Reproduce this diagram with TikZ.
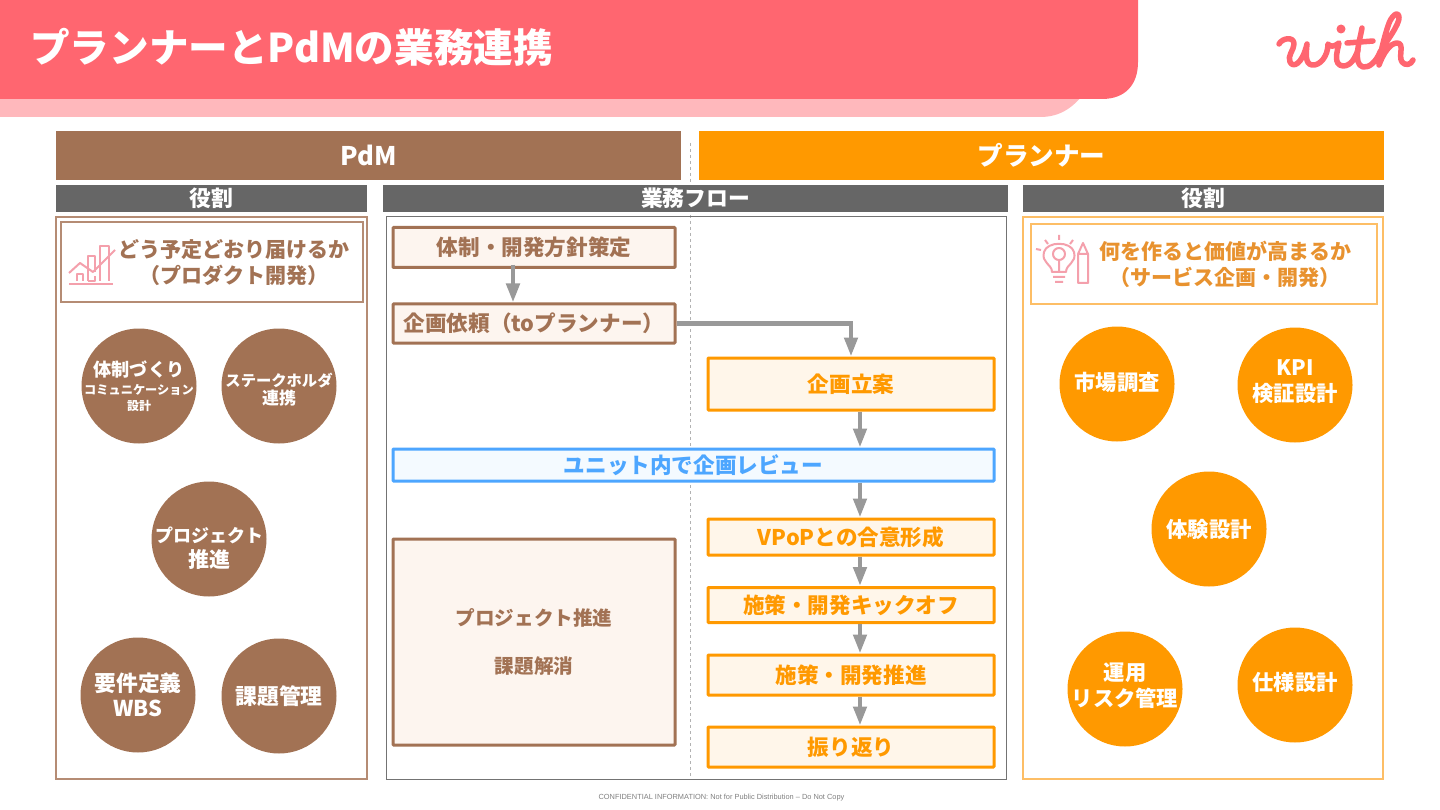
\documentclass[tikz,border=0pt]{standalone}
\usepackage{fontspec}
\setmainfont{Noto Sans CJK JP}
\newfontfamily\footfont{Liberation Sans}
\usepackage{tikz}
\usetikzlibrary{positioning, arrows.meta, calc}
\definecolor{withred}{HTML}{FF6670}
\definecolor{withpink}{HTML}{FFB8BC}
\definecolor{pdmbrown}{HTML}{A27254}
\definecolor{browntint}{HTML}{FDF5EF}
\definecolor{brownline}{HTML}{B58C74}
\definecolor{plannerorange}{HTML}{FF9900}
\definecolor{orangetint}{HTML}{FFF6EA}
\definecolor{orangeline}{HTML}{FDBE66}
\definecolor{bargray}{HTML}{666666}
\definecolor{flowblue}{HTML}{4DA6FF}
\definecolor{iconpink}{HTML}{F4A0AC}
\definecolor{softorange}{HTML}{E8922F}
\newcommand{\rolelift}[2]{\raisebox{\dimexpr#1-8pt}[0pt][0pt]{\begin{tabular}{@{}c@{}}#2\end{tabular}}}
\tikzset{
  bigbar/.style={font=\fontsize{25.6}{30}\selectfont\bfseries, text=white, inner sep=0pt, minimum height=49pt},
  subbar/.style={fill=bargray, font=\fontsize{21.8}{26}\selectfont\bfseries, text=white, inner sep=0pt, minimum height=27pt},
  brownbox/.style={draw=pdmbrown, line width=3pt, fill=browntint, text=pdmbrown, inner sep=0pt, font=\fontsize{21.6}{25}\selectfont\bfseries, minimum width=282pt, rounded corners=0.8pt},
  orangebox/.style={draw=plannerorange, line width=3pt, fill=orangetint, text=plannerorange, inner sep=0pt, font=\fontsize{21.6}{25}\selectfont\bfseries, minimum width=286pt, rounded corners=0.8pt},
  bluebox/.style={draw=flowblue, line width=3pt, fill=flowblue!6, text=flowblue, inner sep=0pt, font=\fontsize{21.6}{25}\selectfont\bfseries, minimum width=601pt, minimum height=32pt, rounded corners=0.8pt},
  brownrole/.style={circle, fill=pdmbrown, text=white, inner sep=-20pt, minimum size=115pt, align=center, font=\fontsize{21.8}{25}\selectfont\bfseries},
  orangerole/.style={circle, fill=plannerorange, text=white, inner sep=-20pt, minimum size=115pt, align=center, font=\fontsize{21.3}{25}\selectfont\bfseries},
  flow/.style={draw=black!40, line width=4.5pt, -{Triangle[length=19pt,width=13pt]}},
  icon/.style={draw=iconpink, line width=2pt, line join=round}
}
\begin{document}
\begin{tikzpicture}[x=1pt, y=-1pt]
    \useasboundingbox (0,0) rectangle (1440,810);
    \fill[white] (0,0) rectangle (1440,810);

    % Title band
    \fill[withpink] (0,80) -- (1090,80) -- (1090,85) .. controls (1075,108) and (1060,117) .. (1040,117) -- (0,117) -- cycle;
    \fill[withred] (0,0) -- (1138,0) -- (1138,62) .. controls (1138,85) and (1125,99) .. (1102,99) -- (0,99) -- cycle;
    \node[anchor=west, text=white, inner sep=0pt, font=\fontsize{39.6}{44}\selectfont\bfseries] (title) at (30,47) {プランナーとPdMの業務連携};

    % Logo
    \draw[withred, line width=5.5pt, line cap=round, line join=round]
      (1279,44) .. controls (1282,38) and (1294,36) .. (1294,44)
      .. controls (1294,50) and (1287,56) .. (1290,62)
      .. controls (1293,68) and (1302,65) .. (1307,44)
      .. controls (1306,54) and (1305,64) .. (1312,65)
      .. controls (1320,66) and (1328,56) .. (1328,44)
      .. controls (1330,47) and (1334,47) .. (1339,43)
      .. controls (1337,52) and (1333,65) .. (1343,66)
      .. controls (1351,66) and (1355,58) .. (1358,50);
    \draw[withred, line width=5.5pt, line cap=round, line join=round]
      (1362,28) .. controls (1360,40) and (1352,64) .. (1363,67)
      .. controls (1369,68) and (1376,62) .. (1380,52)
      .. controls (1386,42) and (1400,24) .. (1399,17)
      .. controls (1398,10) and (1391,16) .. (1388,26)
      .. controls (1384,38) and (1380,54) .. (1379,65)
      .. controls (1383,54) and (1390,43) .. (1397,43)
      .. controls (1405,43) and (1398,56) .. (1402,62)
      .. controls (1405,66) and (1411,65) .. (1413,60);
    \draw[withred, line width=5.5pt, line cap=round] (1347,43) -- (1373,41);
    \fill[withred] (1341,29) circle (4.5pt);

    % Centre divider
    \coordinate (divtop) at (690,143);
    \coordinate (divbot) at (690,777);
    \draw[black!30, dashed, line width=1pt] (divtop) -- (divbot);

    % Column headers
    \fill[pdmbrown] (56,131) rectangle (681,180);
    \node[bigbar] (pdmbar) at (368.5,155.5) {PdM};
    \fill[plannerorange] (699,131) rectangle (1384,180);
    \node[bigbar] (plannerbar) at (1041.5,155.5) {プランナー};
    \node[subbar, minimum width=311pt] (roleleft) at (211.5,198.5) {役割};
    \node[subbar, minimum width=625pt] (flowbar) at (695.5,198.5) {業務フロー};
    \node[subbar, minimum width=361pt] (roleright) at (1203.5,198.5) {役割};

    % Panels
    \draw[brownline, line width=1.2pt] (56,217) rectangle (367,779);
    \draw[black!55, line width=1pt] (386,217) rectangle (1006,779);
    \draw[orangeline, line width=1.2pt] (1023,217) rectangle (1383,779);

    % Left role heading
    \draw[brownline, line width=1.2pt] (61,222) rectangle (363,302);
    \node[align=center, inner sep=0pt, text=pdmbrown, font=\fontsize{21}{26}\selectfont\bfseries] (whenhead) at (234,263) {どう予定どおり届けるか\\（プロダクト開発）};
    % Chart icon
    \draw[icon] (77,281) -- (77,274) -- (83,274) -- (83,281) (88,281) -- (88,256) -- (95,256) -- (95,272) (100,281) -- (100,246) -- (109,246) -- (109,281) (88,281) -- (95,281) -- (95,276);
    \draw[icon] (69,273) -- (80,263) -- (93,272) -- (115,250);
    \draw[icon] (69,284) -- (113,284);

    % Right role heading
    \draw[orangeline, line width=1.2pt] (1031,224) rectangle (1377,304);
    \node[align=center, inner sep=0pt, text=softorange, font=\fontsize{21}{26}\selectfont\bfseries] (whathead) at (1225,264) {何を作ると価値が高まるか\\（サービス企画・開発）};
    % Bulb and pencil icon
    \draw[icon] (1052,272) .. controls (1052,264) and (1041,263) .. (1044,252) .. controls (1047,241) and (1071,241) .. (1074,252) .. controls (1077,263) and (1066,264) .. (1066,272) -- cycle;
    \draw[icon] (1059,254) circle (6pt) (1059,260) -- (1059,272) (1053,277) -- (1065,277) (1055,282) -- (1063,282);
    \draw[icon] (1078,283) -- (1078,254) -- (1083,243) -- (1088,254) -- (1088,283) -- cycle (1078,254) -- (1088,254);
    \draw[icon] (1045,240) -- (1048,244) (1059,235) -- (1059,240) (1073,240) -- (1070,244) (1041,250) -- (1036,249);

    % Flow boxes
    \node[brownbox, minimum height=40pt] (seibi) at (534,247.5) {体制・開発方針策定};
    \node[brownbox, minimum height=39pt] (irai) at (534,323.5) {企画依頼（toプランナー）};
    \node[orangebox, minimum height=52pt] (ritsuan) at (851,384) {企画立案};
    \node[bluebox] (review) at (693.5,465) {ユニット内で企画レビュー};
    \node[orangebox, minimum height=36pt] (vpop) at (851,537) {VPoPとの合意形成};
    \node[orangebox, minimum height=35pt] (kickoff) at (851,605) {施策・開発キックオフ};
    \node[orangebox, minimum height=40pt] (suishin) at (851,675) {施策・開発推進};
    \node[orangebox, minimum height=40pt] (furikaeri) at (851,747) {振り返り};
    \node[brownbox, minimum height=206pt, align=center, font=\fontsize{19.6}{48}\selectfont\bfseries] (project) at (534,642) {プロジェクト推進\\課題解消};

    % Flow arrows
    \draw[flow] ([xshift=-21pt,yshift=4pt]seibi.south) -- ([xshift=-21pt]irai.north);
    \draw[flow] (irai.east) -| (ritsuan.north);
    \draw[flow] ([xshift=9pt]ritsuan.south) -- ([xshift=9pt]ritsuan.south |- review.north);
    \draw[flow] ([xshift=9pt]vpop.north |- review.south) -- ([xshift=9pt]vpop.north);
    \draw[flow] ([xshift=9pt]vpop.south) -- ([xshift=9pt]kickoff.north);
    \draw[flow] ([xshift=9pt]kickoff.south) -- ([xshift=9pt]suishin.north);
    \draw[flow] ([xshift=9pt]suishin.south) -- ([xshift=9pt]furikaeri.north);

    % PdM roles
    \node[brownrole] (taisei) at (139,386) {{\fontsize{18.2}{22}\selectfont 体制づくり}\\[-7pt]{\fontsize{12.2}{14}\selectfont コミュニケーション}\\[-9pt]{\fontsize{12}{13}\selectfont 設計}};
    \node[brownrole] (stake) at (279,386) {\rolelift{-2pt}{{\fontsize{15.3}{18}\selectfont ステークホルダ}\\[-7pt]{\fontsize{17}{20}\selectfont 連携}}};
    \node[brownrole] (pjt) at (209,539) {\rolelift{-8pt}{{\fontsize{18}{25}\selectfont プロジェクト}\\{\fontsize{21}{25}\selectfont 推進}}};
    \node[brownrole] (yoken) at (138,695) {要件定義\\WBS};
    \node[brownrole] (kadai) at (279,696) {課題管理};

    % Planner roles
    \node[orangerole] (shijo) at (1117,384) {\rolelift{2pt}{市場調査}};
    \node[orangerole] (kpi) at (1295,385) {\rolelift{4pt}{KPI\\検証設計}};
    \node[orangerole] (taiken) at (1209,529) {体験設計};
    \node[orangerole] (unyo) at (1125,689) {\rolelift{3pt}{運用\\リスク管理}};
    \node[orangerole] (shiyo) at (1295,685) {\rolelift{3pt}{仕様設計}};

    % Footer
    \node[text=black!50, inner sep=0pt, font=\footfont\fontsize{7.4}{8}\selectfont] (footer) at (721.5,798) {CONFIDENTIAL INFORMATION: Not for Public Distribution – Do Not Copy};
\end{tikzpicture}
\end{document}
